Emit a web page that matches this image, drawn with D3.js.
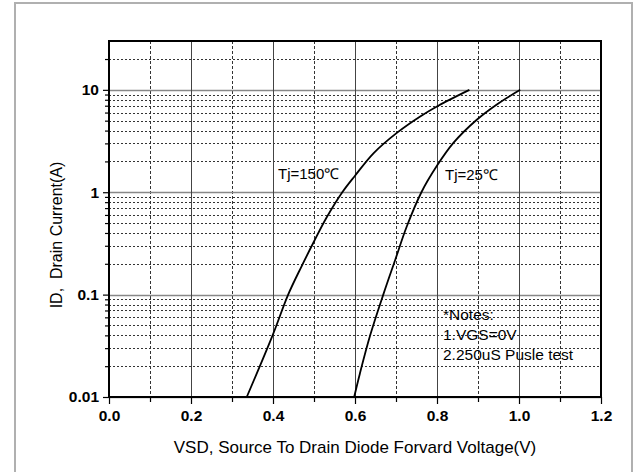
<!DOCTYPE html>
<html><head><meta charset="utf-8">
<script src="https://cdn.jsdelivr.net/npm/d3@7"></script>
<style>
html,body{margin:0;padding:0;background:#fff;}
text{font-family:"Liberation Sans",Arial,sans-serif;}
</style></head>
<body>
<svg id="c" width="642" height="472"></svg>
<script>
// ---- data ----
const xTicks = [0, 0.2, 0.4, 0.6, 0.8, 1.0, 1.2];
const xTickLabels = ["0.0", "0.2", "0.4", "0.6", "0.8", "1.0", "1.2"];
const xMinor = [0.1, 0.3, 0.5, 0.7, 0.9, 1.1];
const yTicks = [0.01, 0.1, 1, 10];
const yTickLabels = ["0.01", "0.1", "1", "10"];
const yMinor = [0.02,0.03,0.04,0.05,0.06,0.07,0.08,0.09,
                0.2,0.3,0.4,0.5,0.6,0.7,0.8,0.9,
                2,3,4,5,6,7,8,9,
                20];
const vsd150 = [0.336, 0.399, 0.437, 0.470, 0.500, 0.530, 0.569, 0.600, 0.645, 0.702, 0.759, 0.803, 0.879];
const id150  = [0.01, 0.040, 0.1, 0.19, 0.33, 0.56, 1.0, 1.45, 2.4, 3.8, 5.5, 7.0, 10];
const vsd25  = [0.598, 0.612, 0.637, 0.669, 0.698, 0.726, 0.762, 0.799, 0.840, 0.897, 0.946, 1.003];
const id25   = [0.01, 0.017, 0.040, 0.1, 0.218, 0.46, 1.0, 1.79, 3.03, 5.1, 7.2, 10];
const notes = ["*Notes:", "1.VGS=0V", "2.250uS Pusle test"];

// ---- layout ----
const L = 109, R = 601, T = 41, B = 397;
const svg = d3.select("#c");
svg.append("rect").attr("x",0).attr("y",0).attr("width",642).attr("height",472).attr("fill","#fff");
svg.append("rect").attr("x",15).attr("y",3).attr("width",617).attr("height",490)
   .attr("fill","none").attr("stroke","#b0b0b0").attr("stroke-width",2);

const x = d3.scaleLinear().domain([0, 1.2]).range([L, R]);
const y = d3.scaleLog().domain([0.01, 30]).range([B, T]);

const g = svg.append("g");
g.selectAll(".hm").data(yMinor).join("line")
  .attr("x1",L).attr("x2",R).attr("y1",d=>Math.round(y(d))+0.5).attr("y2",d=>Math.round(y(d))+0.5)
  .attr("stroke","#333").attr("stroke-width",1).attr("stroke-dasharray","2,2");
g.selectAll(".vm").data(xMinor).join("line")
  .attr("y1",T).attr("y2",B).attr("x1",d=>Math.round(x(d))+0.5).attr("x2",d=>Math.round(x(d))+0.5)
  .attr("stroke","#333").attr("stroke-width",1).attr("stroke-dasharray","3,2");
g.selectAll(".hM").data(yTicks).join("line")
  .attr("x1",L).attr("x2",R).attr("y1",d=>Math.round(y(d))+0.5).attr("y2",d=>Math.round(y(d))+0.5)
  .attr("stroke","#888").attr("stroke-width",1.3);
g.selectAll(".vM").data(xTicks).join("line")
  .attr("y1",T).attr("y2",B).attr("x1",d=>Math.round(x(d))+0.5).attr("x2",d=>Math.round(x(d))+0.5)
  .attr("stroke","#444").attr("stroke-width",1);

// axes
const yAx = svg.append("g").attr("transform",`translate(${L},0)`)
  .call(d3.axisLeft(y).tickValues(yTicks).tickSize(6).tickPadding(4).tickFormat((d,i)=>yTickLabels[i]));
const yAxm = svg.append("g").attr("transform",`translate(${L},0)`)
  .call(d3.axisLeft(y).tickValues(yMinor).tickSize(4).tickFormat(""));
const xAx = svg.append("g").attr("transform",`translate(0,${B})`)
  .call(d3.axisBottom(x).tickValues(xTicks).tickSize(7).tickPadding(6).tickFormat((d,i)=>xTickLabels[i]));
const xAxm = svg.append("g").attr("transform",`translate(0,${B})`)
  .call(d3.axisBottom(x).tickValues(xMinor).tickSize(5).tickFormat(""));
[yAx,yAxm,xAx,xAxm].forEach(a=>{
  a.select(".domain").remove();
  a.selectAll(".tick line").attr("stroke","#000").attr("stroke-width",1.2);
  a.selectAll("text").attr("fill","#000").attr("font-size","15.5px").attr("font-weight","bold")
   .attr("font-family","'Liberation Sans',Arial,sans-serif");
});

// frame
svg.append("rect").attr("x",L).attr("y",T).attr("width",R-L).attr("height",B-T)
  .attr("fill","none").attr("stroke","#000").attr("stroke-width",2);

// curves
const line = d3.line().x(d=>x(d[0])).y(d=>y(d[1])).curve(d3.curveCatmullRom.alpha(0.5));
svg.append("path").datum(vsd150.map((v,i)=>[v,id150[i]])).attr("d",line)
  .attr("fill","none").attr("stroke","#000").attr("stroke-width",1.8);
svg.append("path").datum(vsd25.map((v,i)=>[v,id25[i]])).attr("d",line)
  .attr("fill","none").attr("stroke","#000").attr("stroke-width",1.8);

// labels
svg.append("text").attr("x",278).attr("y",179).attr("font-size","15px").attr("fill","#000").text("Tj=150℃");
svg.append("text").attr("x",445).attr("y",180).attr("font-size","15px").attr("fill","#000").text("Tj=25℃");
svg.selectAll(".note").data(notes).join("text")
  .attr("x",443).attr("y",(d,i)=>320+i*20).attr("font-size","15.5px").attr("fill","#000").text(d=>d);

// axis titles
svg.append("text").attr("x",(L+R)/2).attr("y",453).attr("text-anchor","middle")
  .attr("font-size","17px").attr("fill","#000").text("VSD, Source To Drain Diode Forvard Voltage(V)");
svg.append("text").attr("transform","translate(62,235) rotate(-90)").attr("text-anchor","middle")
  .attr("font-size","16px").attr("fill","#000").attr("xml:space","preserve").text("ID,  Drain Current(A)");
</script>
</body></html>
